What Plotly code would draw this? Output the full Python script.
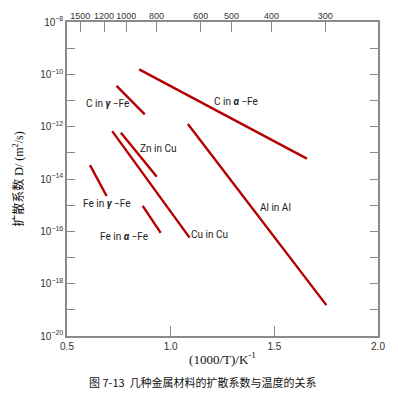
import plotly.graph_objects as go

# Segments: (1000/T) start/end, log10(D) start/end
series_names = ["C in α-Fe", "C in γ-Fe", "Zn in Cu", "Cu in Cu", "Fe in γ-Fe", "Fe in α-Fe", "Al in Al"]
x_start = [0.848, 0.739, 0.760, 0.718, 0.611, 0.865, 1.083]
x_end = [1.657, 0.875, 0.933, 1.091, 0.691, 0.952, 1.751]
logD_start = [-9.81, -10.44, -12.23, -12.17, -13.47, -15.03, -11.90]
logD_end = [-13.22, -11.53, -13.91, -16.24, -14.65, -16.06, -18.82]

label_texts = ["C in <b><i>α</i></b> −Fe", "C in <b><i>γ</i></b> −Fe", "Zn in Cu", "Cu in Cu",
               "Fe in <b><i>γ</i></b> −Fe", "Fe in <b><i>α</i></b> −Fe", "Al in Al"]
label_x = [1.314, 0.695, 0.9375, 1.1875, 0.695, 0.776, 1.507]
label_logD = [-11.05, -11.11, -12.85, -16.11, -14.93, -16.18, -15.08]

temps_c = [1500, 1200, 1000, 800, 600, 500, 400, 300]
y_exponents = list(range(-20, -7))
bottom_ticks = [0.5, 1.0, 1.5, 2.0]

line_color = "#B40000"
axis_color = "#8a8a8a"
tick_font = dict(family="Liberation Sans, Arial", size=10, color="#333333")

fig = go.Figure()
for i, name in enumerate(series_names):
    fig.add_trace(go.Scatter(
        x=[x_start[i], x_end[i]],
        y=[10 ** logD_start[i], 10 ** logD_end[i]],
        mode="lines", line=dict(color=line_color, width=2.4),
        name=name, showlegend=False, hoverinfo="skip"))

# invisible trace on top axis
fig.add_trace(go.Scatter(x=[0.5, 2.0], y=[1e-20, 1e-20], xaxis="x2", mode="markers",
                         marker=dict(opacity=0), showlegend=False, hoverinfo="skip"))

for t, lx, ly in zip(label_texts, label_x, label_logD):
    fig.add_annotation(x=lx, y=ly, text=t, showarrow=False, xref="x", yref="y",
                       font=dict(family="Roboto, Liberation Sans, Arial", size=10, color="#222222"))

fig.add_annotation(text="图 7-13  几种金属材料的扩散系数与温度的关系", xref="paper", yref="paper",
                   x=0.437, y=-0.147, xanchor="center", yanchor="middle", showarrow=False,
                   font=dict(family="Noto Sans CJK SC", size=11, color="#111111"))

ytickvals = [10.0 ** e for e in y_exponents]
yticktext = [("10<sup>−%d</sup>" % (-e)) if e % 2 == 0 else "" for e in y_exponents]

fig.update_layout(
    width=398, height=396,
    margin=dict(l=67, r=20, t=22, b=60, autoexpand=False),
    plot_bgcolor="white", paper_bgcolor="white",
    xaxis=dict(range=[0.5, 2.0], tickvals=bottom_ticks,
               ticktext=["0.5", "1.0", "1.5", "2.0"], automargin=False,
               ticks="inside", ticklen=10, tickcolor=axis_color, tickwidth=1,
               showline=True, linecolor=axis_color, linewidth=1.5, mirror=True,
               showgrid=False, zeroline=False, tickfont=tick_font, tickangle=0,
               title=dict(text="(1000/T)/K<sup>-1</sup>", standoff=4,
                          font=dict(family="Liberation Serif, Times New Roman", size=13, color="#111111"))),
    xaxis2=dict(range=[0.5, 2.0], overlaying="x", side="top", anchor="y",
                tickvals=[1000.0 / (t + 273.0) for t in temps_c],
                ticktext=[str(t) for t in temps_c], automargin=False, tickangle=0,
                ticks="inside", ticklen=10, tickcolor=axis_color, tickwidth=1,
                showline=False, showgrid=False, zeroline=False,
                tickfont=dict(family="Liberation Sans, Arial", size=9, color="#333333")),
    yaxis=dict(type="log", range=[-20, -8], tickvals=ytickvals, ticktext=yticktext,
               ticks="inside", ticklen=8, tickcolor=axis_color, tickwidth=1, automargin=False,
               showline=True, linecolor=axis_color, linewidth=1.5, mirror="ticks",
               showgrid=False, zeroline=False, tickfont=tick_font,
               title=dict(text="扩散系数 D/ (m<sup>2</sup>/s)", standoff=14,
                          font=dict(family="Liberation Serif, Noto Sans CJK SC", size=12, color="#111111"))),
)

fig.write_html("out.html", post_script="document.body.style.margin='0';",
               config={"displayModeBar": False})
